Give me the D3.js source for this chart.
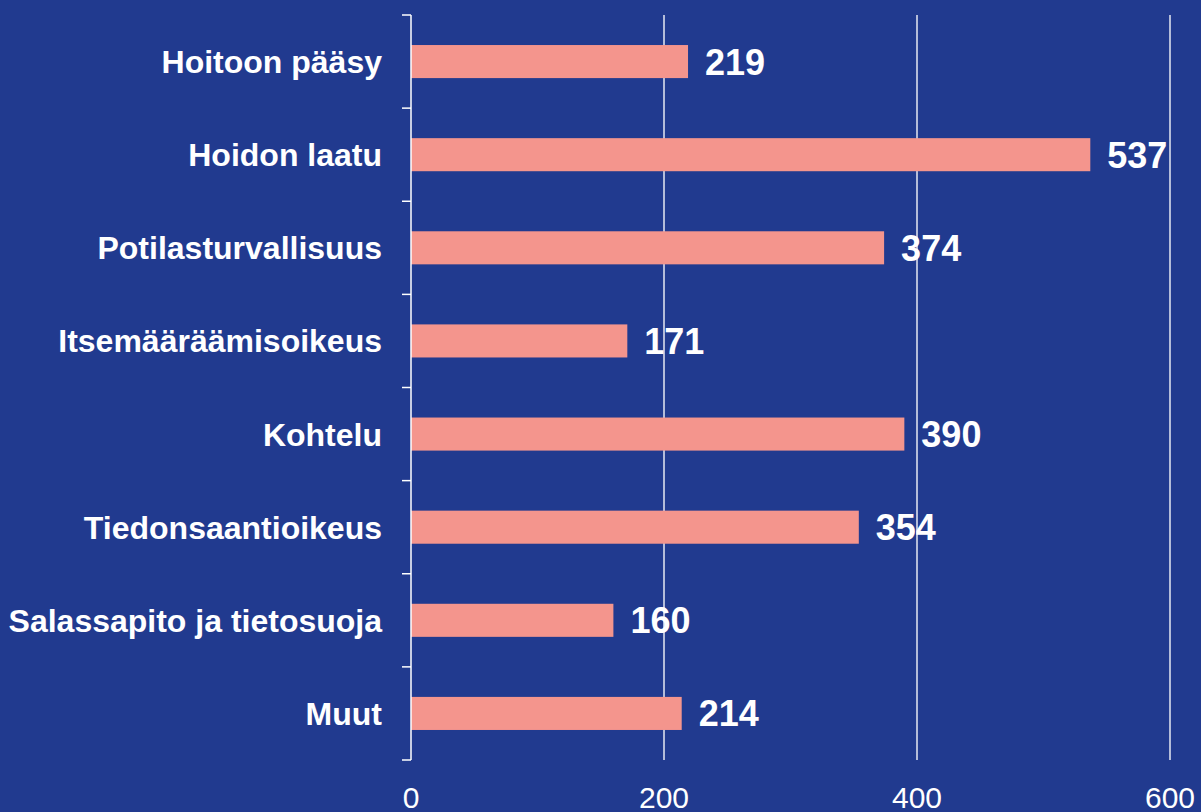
<!DOCTYPE html>
<html>
<head>
<meta charset="utf-8">
<script src="https://cdn.jsdelivr.net/npm/d3@7"></script>
<style>
  html, body { margin: 0; padding: 0; background: #213a8f; }
  svg { display: block; }
</style>
</head>
<body>
<svg id="chart" width="1201" height="812" viewBox="0 0 1201 812"></svg>
<script>
'use strict';

var categories = ['Hoitoon pääsy', 'Hoidon laatu', 'Potilasturvallisuus', 'Itsemääräämisoikeus',
  'Kohtelu', 'Tiedonsaantioikeus', 'Salassapito ja tietosuoja', 'Muut'];
var values = [219, 537, 374, 171, 390, 354, 160, 214];
var xTicks = [0, 200, 400, 600];

(function () {
  var svg = d3.select('#chart');
  var font = '"Liberation Sans", Arial, Helvetica, sans-serif';
  var left = 411, right = 1170, top = 15, bottom = 760;

  svg.append('rect').attr('width', 1201).attr('height', 812).attr('fill', '#213a8f');

  var x = d3.scaleLinear().domain([0, 600]).range([left, right]);
  var y = d3.scaleBand().domain(categories).range([top, bottom])
    .paddingInner(0.645).paddingOuter(0.3225);

  // vertical gridlines
  svg.append('g').selectAll('line').data(xTicks.slice(1)).enter().append('line')
    .attr('x1', function (d) { return x(d); })
    .attr('x2', function (d) { return x(d); })
    .attr('y1', top).attr('y2', bottom)
    .attr('stroke', '#e6e8f2').attr('stroke-width', 1.5);

  // bars
  svg.append('g').selectAll('rect').data(values).enter().append('rect')
    .attr('x', x(0))
    .attr('y', function (d, i) { return y(categories[i]); })
    .attr('width', function (d) { return x(d) - x(0); })
    .attr('height', y.bandwidth())
    .attr('fill', '#f4958d');

  // value labels
  svg.append('g').selectAll('text').data(values).enter().append('text')
    .attr('x', function (d) { return x(d) + 17; })
    .attr('y', function (d, i) { return y(categories[i]) + y.bandwidth() / 2; })
    .attr('dy', '0.36em')
    .attr('fill', '#ffffff')
    .attr('font-family', font).attr('font-weight', 'bold').attr('font-size', 36)
    .text(function (d) { return d; });

  // left axis line and ticks at band boundaries
  var step = y.step();
  var bounds = d3.range(categories.length + 1).map(function (i) { return top + i * step; });
  svg.append('line').attr('x1', left).attr('x2', left).attr('y1', top).attr('y2', bottom)
    .attr('stroke', '#ffffff').attr('stroke-width', 1.5);
  svg.append('g').selectAll('line').data(bounds).enter().append('line')
    .attr('x1', left - 9).attr('x2', left)
    .attr('y1', function (d) { return d; }).attr('y2', function (d) { return d; })
    .attr('stroke', '#ffffff').attr('stroke-width', 1.5);

  // category labels
  svg.append('g').selectAll('text').data(categories).enter().append('text')
    .attr('x', 382)
    .attr('y', function (d) { return y(d) + y.bandwidth() / 2; })
    .attr('dy', '0.36em')
    .attr('text-anchor', 'end')
    .attr('fill', '#ffffff')
    .attr('font-family', font).attr('font-weight', 'bold').attr('font-size', 32)
    .text(function (d) { return d; });

  // bottom tick labels
  svg.append('g').selectAll('text').data(xTicks).enter().append('text')
    .attr('x', function (d) { return x(d); })
    .attr('y', 808)
    .attr('text-anchor', 'middle')
    .attr('fill', '#ffffff')
    .attr('font-family', font).attr('font-size', 30)
    .text(function (d) { return d; });
})();
</script>
</body>
</html>
